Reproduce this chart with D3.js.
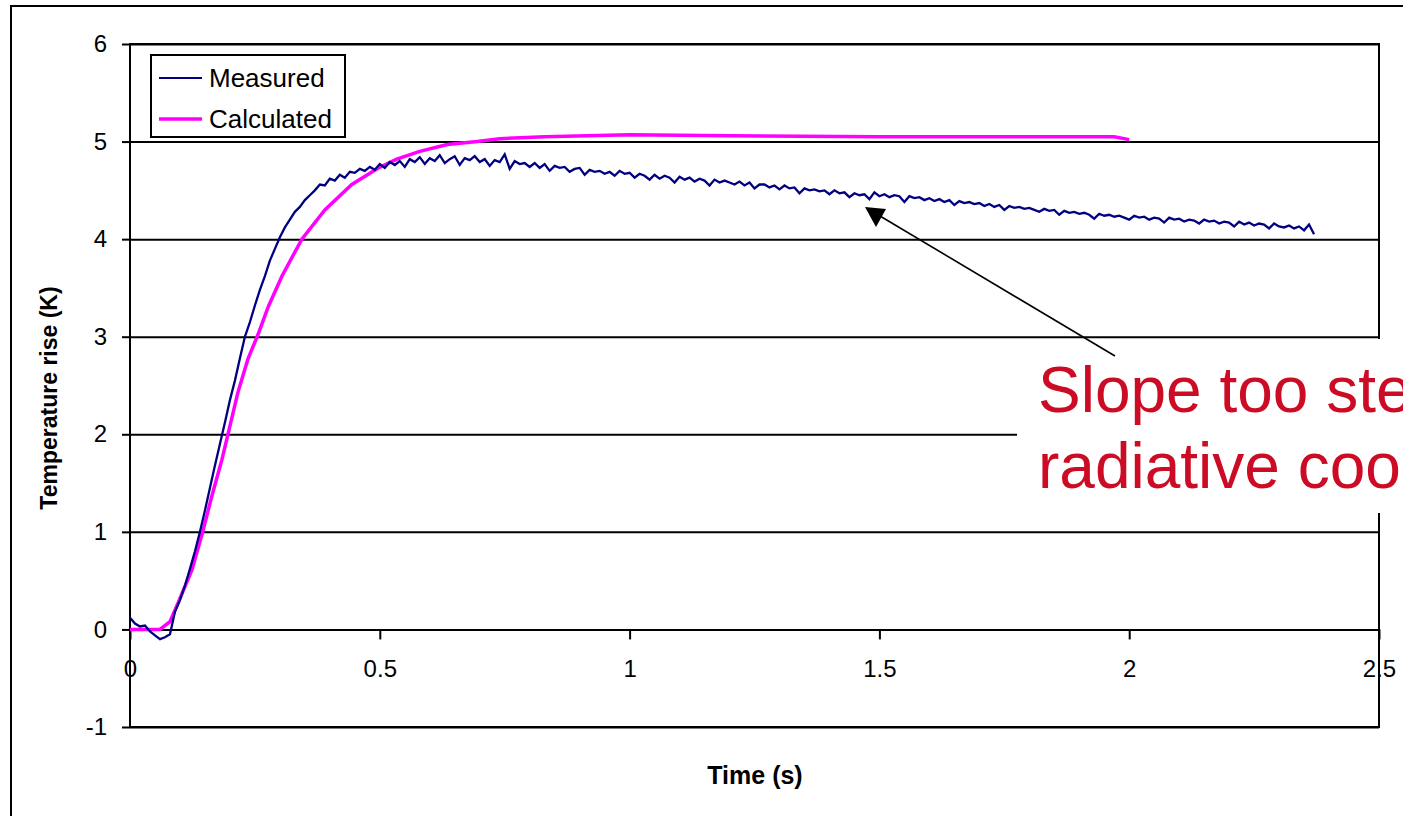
<!DOCTYPE html>
<html>
<head>
<meta charset="utf-8">
<script src="https://cdn.jsdelivr.net/npm/d3@7"></script>
<style>
  body { margin: 0; background: #fff; overflow: hidden; }
  svg { display: block; font-family: "Liberation Sans", Arial, sans-serif; }
</style>
</head>
<body>
<svg width="1403" height="816"></svg>
<script>
var xTicks = [0, 0.5, 1, 1.5, 2, 2.5];
var yTicks = [-1, 0, 1, 2, 3, 4, 5, 6];

// measured trace, one sample every 0.01 s from t = 0
var measuredStep = 0.01;
var measured = [
  0.12, 0.06, 0.03, 0.04, -0.02, -0.06, -0.10, -0.08, -0.05, 0.18,
  0.30, 0.45, 0.62, 0.80, 1.00, 1.22, 1.45, 1.68, 1.90, 2.12,
  2.35, 2.55, 2.78, 3.00, 3.15, 3.32, 3.48, 3.62, 3.78, 3.90,
  4.02, 4.12, 4.20, 4.28, 4.33, 4.40, 4.45, 4.50, 4.56, 4.55,
  4.62, 4.60, 4.66, 4.63, 4.69, 4.68, 4.72, 4.70, 4.74, 4.71,
  4.77, 4.73, 4.79, 4.76, 4.80, 4.74, 4.82, 4.79, 4.84, 4.77,
  4.83, 4.80, 4.86, 4.78, 4.82, 4.85, 4.76, 4.83, 4.81, 4.85,
  4.79, 4.82, 4.75, 4.81, 4.79, 4.87, 4.72, 4.80, 4.77, 4.78,
  4.74, 4.78, 4.73, 4.77, 4.70, 4.75, 4.73, 4.74, 4.69, 4.72,
  4.73, 4.66, 4.71, 4.69, 4.70, 4.67, 4.69, 4.65, 4.70, 4.67,
  4.68, 4.63, 4.67, 4.65, 4.61, 4.66, 4.62, 4.65, 4.63, 4.58,
  4.64, 4.61, 4.63, 4.59, 4.62, 4.60, 4.55, 4.61, 4.58, 4.60,
  4.58, 4.56, 4.59, 4.55, 4.58, 4.52, 4.56, 4.56, 4.53, 4.55,
  4.51, 4.55, 4.52, 4.53, 4.47, 4.52, 4.50, 4.51, 4.49, 4.50,
  4.46, 4.50, 4.47, 4.48, 4.43, 4.47, 4.45, 4.46, 4.41, 4.48,
  4.44, 4.46, 4.43, 4.45, 4.44, 4.38, 4.44, 4.42, 4.43, 4.40,
  4.42, 4.39, 4.41, 4.38, 4.40, 4.35, 4.39, 4.37, 4.38, 4.36,
  4.37, 4.34, 4.36, 4.33, 4.35, 4.30, 4.34, 4.32, 4.33, 4.31,
  4.32, 4.30, 4.28, 4.31, 4.29, 4.30, 4.25, 4.29, 4.27, 4.28,
  4.26, 4.27, 4.25, 4.21, 4.26, 4.24, 4.25, 4.23, 4.24, 4.22,
  4.20, 4.24, 4.22, 4.23, 4.20, 4.22, 4.21, 4.17, 4.22, 4.20,
  4.21, 4.18, 4.20, 4.19, 4.16, 4.20, 4.18, 4.19, 4.16, 4.18,
  4.17, 4.13, 4.18, 4.15, 4.17, 4.14, 4.16, 4.15, 4.11, 4.16,
  4.13, 4.12, 4.14, 4.11, 4.13, 4.09, 4.15, 4.05
];

var calcTime = [0, 0.06, 0.08, 0.096, 0.11, 0.124, 0.145, 0.164, 0.184, 0.197,
  0.216, 0.236, 0.256, 0.277, 0.304, 0.344, 0.39, 0.444, 0.497, 0.534,
  0.58, 0.635, 0.695, 0.74, 0.83, 1.0, 1.2, 1.5, 1.97, 2.0];
var calcValue = [0, 0, 0.08, 0.27, 0.44, 0.61, 0.99, 1.37, 1.74, 2.02,
  2.43, 2.77, 3.02, 3.31, 3.62, 4.0, 4.30, 4.56, 4.73, 4.82,
  4.90, 4.97, 5.0, 5.03, 5.05, 5.07, 5.06, 5.05, 5.05, 5.02];

var seriesNames = ["Measured", "Calculated"];
var seriesColors = ["#000080", "#ff00ff"];

var svg = d3.select("svg"),
    plotL = 130, plotR = 1379, plotT = 44, plotB = 727;

var x = d3.scaleLinear().domain([0, 2.5]).range([plotL, plotR]);
var y = d3.scaleLinear().domain([-1, 6]).range([plotB, plotT]);

// outer frame (only the top and left edges show)
svg.append("path")
    .attr("d", "M11,816V6H1403")
    .attr("fill", "none")
    .attr("stroke", "#000")
    .attr("stroke-width", 2);

// x tick labels sit under the lines, as in the original
var xAxis = svg.append("g")
    .attr("transform", "translate(0," + y(0) + ")")
    .call(d3.axisBottom(x).tickValues(xTicks).tickSize(10).tickPadding(21)
      .tickFormat(function(d) { return String(d); }));
xAxis.select(".domain").remove();
xAxis.selectAll("line").attr("stroke", "#000").attr("stroke-width", 2);
xAxis.selectAll("text").attr("font-size", 24).attr("fill", "#000");

var grid = svg.append("g")
    .attr("transform", "translate(" + plotL + ",0)")
    .call(d3.axisLeft(y).tickValues(yTicks).tickSize(-(plotR - plotL)).tickFormat(""));
grid.select(".domain").remove();
grid.selectAll("line").attr("stroke", "#000").attr("stroke-width", 2);

var yAxis = svg.append("g")
    .attr("transform", "translate(" + plotL + ",0)")
    .call(d3.axisLeft(y).tickValues(yTicks).tickSize(8).tickPadding(15)
      .tickFormat(function(d) { return String(d); }));
yAxis.select(".domain").remove();
yAxis.selectAll("line").attr("stroke", "#000").attr("stroke-width", 2);
yAxis.selectAll("text").attr("font-size", 24).attr("fill", "#000");

svg.append("rect")
    .attr("x", plotL).attr("y", plotT)
    .attr("width", plotR - plotL).attr("height", plotB - plotT)
    .attr("fill", "none")
    .attr("stroke", "#000")
    .attr("stroke-width", 2);

var line = d3.line()
    .x(function(d) { return x(d[0]); })
    .y(function(d) { return y(d[1]); });

var measuredPts = measured.map(function(v, i) { return [i * measuredStep, v]; });
var calcPts = calcTime.map(function(t, i) { return [t, calcValue[i]]; });

svg.append("path")
    .datum(calcPts)
    .attr("d", line)
    .attr("fill", "none")
    .attr("stroke", seriesColors[1])
    .attr("stroke-width", 3.5);

svg.append("path")
    .datum(measuredPts)
    .attr("d", line)
    .attr("fill", "none")
    .attr("stroke", seriesColors[0])
    .attr("stroke-width", 2.3);

// legend
var legend = svg.append("g");
legend.append("rect")
    .attr("x", 151).attr("y", 55)
    .attr("width", 194).attr("height", 82)
    .attr("fill", "#fff")
    .attr("stroke", "#000")
    .attr("stroke-width", 2);

var item = legend.selectAll(".item")
    .data(seriesNames)
    .enter().append("g")
      .attr("class", "item")
      .attr("transform", function(d, i) { return "translate(0," + (78 + i * 41) + ")"; });

item.append("line")
    .attr("x1", 159).attr("x2", 202)
    .attr("stroke", function(d, i) { return seriesColors[i]; })
    .attr("stroke-width", function(d, i) { return i ? 3.5 : 2; });

item.append("text")
    .attr("x", 209)
    .attr("dy", "0.35em")
    .attr("font-size", 26)
    .text(function(d) { return d; });

// axis titles
svg.append("text")
    .attr("x", 755).attr("y", 784)
    .attr("text-anchor", "middle")
    .attr("font-size", 25)
    .attr("font-weight", "bold")
    .text("Time (s)");

svg.append("text")
    .attr("transform", "translate(57,398) rotate(-90)")
    .attr("text-anchor", "middle")
    .attr("font-size", 23)
    .attr("font-weight", "bold")
    .text("Temperature rise (K)");

// annotation, clipped by the page edge as in the original slide
svg.append("rect")
    .attr("x", 1017).attr("y", 339)
    .attr("width", 400).attr("height", 174)
    .attr("fill", "#fff");

svg.append("line")
    .attr("x1", 1115).attr("y1", 356)
    .attr("x2", 880).attr("y2", 216)
    .attr("stroke", "#000")
    .attr("stroke-width", 1.6);

svg.append("path")
    .attr("d", "M865,207L886,209L876,227Z")
    .attr("fill", "#000");

var note = svg.append("text")
    .attr("font-size", 64)
    .attr("fill", "#cc0c25");
note.append("tspan").attr("x", 1038).attr("y", 412).text("Slope too steep:");
note.append("tspan").attr("x", 1038).attr("y", 488).text("radiative cooling");
</script>
</body>
</html>
